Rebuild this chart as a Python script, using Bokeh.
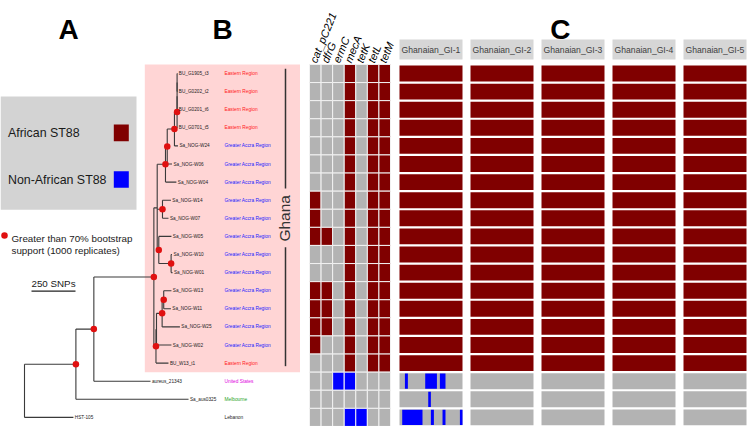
from bokeh.plotting import figure
from bokeh.layouts import row
from bokeh.models import Range1d
from bokeh.embed import file_html
from bokeh.resources import INLINE
from bokeh.core.properties import value

# ---------------- data ----------------
tips = ["BU_G1905_t3", "BU_G0202_t2", "BU_G0201_t6", "BU_G0701_t5", "Sa_NOG-W24",
        "Sa_NOG-W06", "Sa_NOG-W04", "Sa_NOG-W14", "Sa_NOG-W07", "Sa_NOG-W05",
        "Sa_NOG-W10", "Sa_NOG-W01", "Sa_NOG-W13", "Sa_NOG-W11", "Sa_NOG-W25",
        "Sa_NOG-W02", "BU_W13_t1", "aureus_21343", "Sa_aus0325", "HST-105"]
regions = (["Eastern Region"] * 4 + ["Greater Accra Region"] * 12 +
           ["Eastern Region", "United States", "Melbourne", "Lebanon"])
country = ["Ghana"] * 17 + ["USA", "Australia", "Lebanon"]
african = [True] * 17 + [False] * 3

# tree edges: parent, child, branch length (SNPs)
edge_parent = ["root", "root", "T", "T", "S", "S", "R", "R", "I", "I", "I",
               "D", "D", "C", "C", "B", "B", "Z", "Z", "Y", "Y", "X", "X",
               "F", "F", "H", "H", "G", "G", "M", "M", "M1", "M1", "L", "L", "K", "K"]
edge_child = ["T", "HST-105", "S", "Sa_aus0325", "R", "aureus_21343", "I", "M",
              "D", "F", "H", "C", "Sa_NOG-W04", "B", "Sa_NOG-W06", "Z", "Sa_NOG-W24",
              "Y", "BU_G0701_t5", "X", "BU_G0201_t6", "BU_G1905_t3", "BU_G0202_t2",
              "Sa_NOG-W14", "Sa_NOG-W07", "Sa_NOG-W05", "G", "Sa_NOG-W10", "Sa_NOG-W01",
              "M1", "BU_W13_t1", "L", "Sa_NOG-W02", "K", "Sa_NOG-W25", "Sa_NOG-W13", "Sa_NOG-W11"]
edge_length = [292, 278, 102, 640, 341, 322, 19, 12,
               47, 30, 9, 10, 62, 41, 27, 15, 20,
               0, 2, 0, 2, 2, 2,
               48, 34, 72, 70, 5, 8,
               3, 71, 32, 85, 9, 101, 44, 41]
supported_nodes = ["T", "S", "R", "D", "C", "B", "Z", "F", "H", "G", "M", "L", "K"]
scale_bar_snps = 250

genes = ["cat_pC221", "dfrG", "ermC", "mecA", "tetK", "tetL", "tetM"]
gene_presence = [
    [0, 0, 0, 1, 0, 1, 1], [0, 0, 0, 1, 0, 1, 1], [0, 0, 0, 1, 0, 1, 1],
    [0, 0, 0, 1, 0, 1, 1], [0, 0, 0, 1, 0, 1, 1], [0, 0, 0, 1, 0, 1, 1],
    [0, 0, 0, 1, 0, 1, 1], [1, 0, 0, 1, 0, 1, 1], [1, 0, 0, 1, 0, 1, 1],
    [1, 1, 0, 1, 0, 1, 1], [0, 0, 0, 1, 0, 1, 1], [0, 0, 0, 1, 0, 1, 1],
    [1, 1, 0, 1, 0, 1, 1], [1, 1, 0, 1, 0, 1, 1], [1, 1, 0, 1, 0, 1, 1],
    [1, 0, 0, 1, 0, 1, 1], [0, 0, 0, 1, 0, 1, 1], [0, 0, 1, 1, 0, 0, 0],
    [0, 0, 0, 0, 0, 0, 0], [0, 0, 0, 1, 1, 0, 0],
]

gi_names = ["Ghanaian_GI-1", "Ghanaian_GI-2", "Ghanaian_GI-3", "Ghanaian_GI-4", "Ghanaian_GI-5"]
# partial genomic-island hits in non-African isolates (GI index, tip, start %, end %)
partial_gi = [0, 0, 0, 0, 0, 0, 0, 0]
partial_tip = ["aureus_21343", "aureus_21343", "aureus_21343", "Sa_aus0325",
               "HST-105", "HST-105", "HST-105", "HST-105"]
partial_start = [8.6, 40.8, 64.1, 45.6, 4.3, 49.8, 68.3, 95.9]
partial_end = [13.3, 59.4, 73.0, 49.8, 36.5, 54.6, 73.0, 100.0]

legend_labels = ["African ST88", "Non-African ST88"]
bootstrap_text = ["Greater than 70% bootstrap", "support (1000 replicates)"]

# ---------------- style ----------------
RED = "#800000"
BLUE = "#0000ff"
GREY = "#b3b3b3"
PINK = "#ffd5d5"
DOT = "#e01010"
FONT = "Liberation Sans"
region_color = {"Eastern Region": "#ff1a1a", "Greater Accra Region": "#1a1aff",
                "United States": "#e000e0", "Melbourne": "#1f9f1f", "Lebanon": "#222222"}

H = 426
PX_ROW = 18.1
def ry(y):  # reference pixel row -> row units
    return (y - 73.0) / PX_ROW

yr = Range1d(start=ry(426), end=ry(0))

SNP_PX = 250 / 44.0
def ax(x):  # reference pixel -> SNP units (tree panel)
    return (x - 24.0) * SNP_PX

def base_fig(w, xr):
    p = figure(width=w, height=H, x_range=xr, y_range=yr, output_backend="svg",
               toolbar_location=None, min_border=0, x_axis_location=None,
               y_axis_location=None, outline_line_color=None,
               background_fill_color="white", border_fill_color="white")
    p.grid.visible = False
    return p

# ---------------- tree layout ----------------
kids = {}
blen = {}
for pa, ch, ln in zip(edge_parent, edge_child, edge_length):
    kids.setdefault(pa, []).append(ch)
    blen[ch] = ln
xpos = {"root": 0.0}
def set_x(n):
    for c in kids.get(n, []):
        xpos[c] = xpos[n] + blen[c]
        set_x(c)
set_x("root")
ypos = {t: float(i) for i, t in enumerate(tips)}
def set_y(n):
    if n in ypos:
        return ypos[n]
    ys = [set_y(c) for c in kids[n]]
    ypos[n] = sum(ys) / len(ys)
    return ypos[n]
set_y("root")

# ---------------- panel A ----------------
pA = base_fig(300, Range1d(ax(0), ax(300)))

# legend box
pA.quad(left=[ax(0)], right=[ax(136)], top=[ry(96)], bottom=[ry(209.3)],
        fill_color="#d3d3d3", line_color=None)
pA.quad(left=[ax(113.3)] * 2, right=[ax(128.3)] * 2,
        top=[ry(124), ry(170.7)], bottom=[ry(140.7), ry(187.3)],
        fill_color=[RED, BLUE], line_color=None)
pA.text(x=[ax(7.5)] * 2, y=[ry(132.7), ry(179)], text=legend_labels,
        text_font=value(FONT), text_font_size=value("12.4px"), text_color="#1a1a1a",
        text_baseline="middle", text_align="left")

# Ghana shading
gh = [i for i, c in enumerate(country) if c == "Ghana"]
pA.quad(left=[ax(144.3)], right=[ax(301)], top=[min(gh) - 0.5], bottom=[max(gh) + 0.5],
        fill_color=PINK, line_color=None)
mid = (min(gh) + max(gh)) / 2.0
pA.segment(x0=[ax(285)] * 2, x1=[ax(285)] * 2, y0=[min(gh) - 0.26, mid + 1.6],
           y1=[mid - 1.65, max(gh) + 0.17], line_color="#333333", line_width=1.5)
pA.text(x=[ax(283.6)], y=[mid], text=["Ghana"], angle=1.5708,
        text_font=value(FONT), text_font_size=value("15.5px"), text_color="#333333",
        text_align="center", text_baseline="middle")

# tree branches
hx0, hx1, hy = [], [], []
for pa, ch in zip(edge_parent, edge_child):
    hx0.append(xpos[pa]); hx1.append(xpos[ch]); hy.append(ypos[ch])
vx, vy0, vy1 = [], [], []
for n, cs in kids.items():
    ys = [ypos[c] for c in cs]
    vx.append(xpos[n]); vy0.append(min(ys)); vy1.append(max(ys))
pA.segment(x0=hx0, x1=hx1, y0=hy, y1=hy, line_color="#3a3a3a", line_width=1.1)
pA.segment(x0=vx, x1=vx, y0=vy0, y1=vy1, line_color="#3a3a3a", line_width=1.1)
pA.scatter(x=[xpos[n] for n in supported_nodes], y=[ypos[n] for n in supported_nodes],
           size=6.5, fill_color=DOT, line_color=None)

# tip + region labels
pA.text(x=[xpos[t] + 8 for t in tips], y=[ypos[t] for t in tips], text=tips,
        text_font=value(FONT), text_font_size=value("4.7px"), text_color="#222222",
        text_baseline="middle", text_align="left")
pA.text(x=[ax(224)] * len(tips), y=[ypos[t] for t in tips], text=regions,
        text_font=value(FONT), text_font_size=value("4.8px"),
        text_color=[region_color[r] for r in regions],
        text_baseline="middle", text_align="left")

# bootstrap legend
pA.scatter(x=[ax(4)], y=[ry(235)], size=6.5, fill_color=DOT, line_color=None)
pA.text(x=[ax(11)] * 2, y=[ry(238.3), ry(250.3)], text=bootstrap_text,
        text_font=value(FONT), text_font_size=value("9.8px"), text_color="#1a1a1a",
        text_baseline="middle", text_align="left")

# scale bar
sb0 = ax(31)
pA.segment(x0=[sb0], x1=[sb0 + scale_bar_snps], y0=[ry(290.7)], y1=[ry(290.7)],
           line_color="#222222", line_width=1.3)
pA.text(x=[sb0 + scale_bar_snps / 2.0], y=[ry(283)], text=["%d SNPs" % scale_bar_snps],
        text_font=value(FONT), text_font_size=value("9.8px"), text_color="#1a1a1a",
        text_baseline="middle", text_align="center")

# panel letters
pA.text(x=[ax(68), ax(222)], y=[ry(29.3)] * 2, text=["A", "B"],
        text_font=value(FONT), text_font_style="bold", text_font_size=value("28px"),
        text_color="black", text_align="center", text_baseline="alphabetic")

# ---------------- panel B (resistance genes) ----------------
CW = 81.0 / 7
pB = base_fig(95, Range1d((300 - 309) / CW, (395 - 309) / CW))
bl, bt, bb, bc = [], [], [], []
for r, vals in enumerate(gene_presence):
    for j, v in enumerate(vals):
        bl.append(j); bt.append(r - 0.5); bb.append(r + 0.5)
        bc.append(GREY if not v else (RED if african[r] else BLUE))
pB.quad(left=bl, right=[b + 1 for b in bl], top=bt, bottom=bb, fill_color=bc,
        line_color="#f2f2f2", line_width=1)
pB.text(x=[j + 0.3 for j in range(len(genes))], y=[-0.62] * len(genes), text=genes,
        angle=1.18, text_font=value(FONT), text_font_style="italic",
        text_font_size=value("11px"), text_color="black",
        text_align="left", text_baseline="middle")

# ---------------- panel C (genomic islands) ----------------
panel_w = [71, 71, 71, 71, 69]
panels = []
for k, name in enumerate(gi_names):
    w = panel_w[k]
    p = base_fig(w, Range1d(-4 * 100 / 63.0, (w - 4) * 100 / 63.0))
    p.quad(left=[0], right=[100], top=[ry(39)], bottom=[ry(59)],
           fill_color="#d6d6d6", line_color=None)
    p.text(x=[50], y=[ry(49)], text=[name], text_font=value(FONT),
           text_font_size=value("8.6px"), text_color="#404040",
           text_align="center", text_baseline="middle")
    rows_y = list(range(len(tips)))
    p.quad(left=[0] * len(tips), right=[100] * len(tips),
           top=[y - 0.44 for y in rows_y], bottom=[y + 0.44 for y in rows_y],
           fill_color=[RED if a else GREY for a in african], line_color=None)
    sel = [i for i, g in enumerate(partial_gi) if g == k]
    if sel:
        p.quad(left=[partial_start[i] for i in sel], right=[partial_end[i] for i in sel],
               top=[ypos[partial_tip[i]] - 0.42 for i in sel],
               bottom=[ypos[partial_tip[i]] + 0.42 for i in sel],
               fill_color=BLUE, line_color=None)
    if k == 2:
        p.text(x=[30], y=[ry(29.3)], text=["C"], text_font=value(FONT),
               text_font_style="bold", text_font_size=value("28px"), text_color="black",
               text_align="center", text_baseline="alphabetic")
    panels.append(p)

layout = row(pA, pB, *panels, spacing=0)
open("out.html", "w").write(file_html(layout, INLINE))
